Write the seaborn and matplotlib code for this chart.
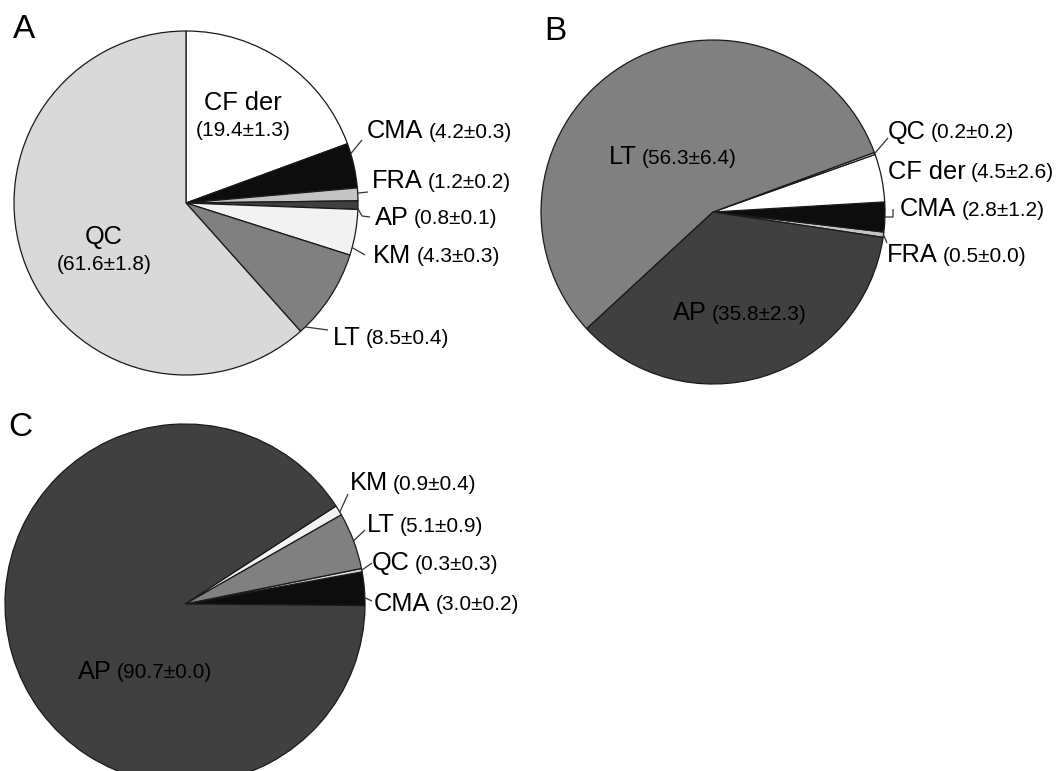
import numpy as np
import matplotlib
matplotlib.use("Agg")
import matplotlib.pyplot as plt
import matplotlib.transforms as mtrans
import seaborn as sns

sns.set_theme(style="white")
plt.rcParams['font.family'] = ['Liberation Sans', 'DejaVu Sans']

W, H = 1057, 771

# ---- data ----
colors_map = {
    "CF der": "#ffffff", "CMA": "#0d0d0d", "FRA": "#c4c4c4", "AP": "#404040",
    "KM": "#f2f2f2", "LT": "#808080", "QC": "#d9d9d9",
}

a_labels = ["CF der", "CMA", "FRA", "AP", "KM", "LT", "QC"]
a_values = [19.4, 4.2, 1.2, 0.8, 4.3, 8.5, 61.6]
a_errors = [1.3, 0.3, 0.2, 0.1, 0.3, 0.4, 1.8]

b_labels = ["FRA", "CMA", "CF der", "QC", "LT", "AP"]
b_values = [0.5, 2.8, 4.5, 0.2, 56.3, 35.8]
b_errors = [0.0, 1.2, 2.6, 0.2, 6.4, 2.3]

c_labels = ["CMA", "QC", "LT", "KM", "AP"]
c_values = [3.0, 0.3, 5.1, 0.9, 90.7]
c_errors = [0.2, 0.3, 0.9, 0.4, 0.0]

fig = plt.figure(figsize=(W / 100, H / 100), dpi=100)
fig.patch.set_facecolor("white")

PAD = 1.1
BIG = 18.3
SMALL = 15
TXT = "#000000"

overlay = fig.add_axes([0, 0, 1, 1], zorder=10)
overlay.set_xlim(0, W)
overlay.set_ylim(H, 0)
overlay.axis("off")
overlay.patch.set_alpha(0)
renderer = fig.canvas.get_renderer()
px_x = mtrans.blended_transform_factory(mtrans.IdentityTransform(), overlay.transData)


def draw_pie(cx, cy, r, labels, values, startangle, counterclock):
    s = r * PAD
    ax = fig.add_axes([(cx - s) / W, 1 - (cy + s) / H, 2 * s / W, 2 * s / H])
    wedges, _ = ax.pie(values, colors=[colors_map[l] for l in labels],
                       startangle=startangle, counterclock=counterclock,
                       wedgeprops=dict(edgecolor="#1a1a1a", linewidth=0.9))
    ax.set_xlim(-PAD, PAD)
    ax.set_ylim(-PAD, PAD)
    ax.set_aspect("equal")
    ax.axis("off")
    return ax, wedges


def edge_px(ax, wedge, frac):
    ang = np.deg2rad(wedge.theta1 + frac * (wedge.theta2 - wedge.theta1))
    p = ax.transData.transform((np.cos(ang), np.sin(ang)))
    return p[0], H - p[1]


def fmt(v, e):
    return f"({v:.1f}±{e:.1f})"


def name_value(lx, ly, name, v, e, gap=5):
    t = overlay.text(lx, ly, name, fontsize=BIG, ha="left", va="center", color=TXT)
    bb = t.get_window_extent(renderer=renderer)
    overlay.text(bb.x1 + gap, ly + 1, fmt(v, e), fontsize=SMALL, ha="left",
                 va="center", color=TXT, transform=px_x)


def leader(points):
    xs = [p[0] for p in points]
    ys = [p[1] for p in points]
    overlay.plot(xs, ys, color="#333333", lw=0.9, solid_capstyle="butt")


def panel(ax, wedges, labels, values, errors, spec):
    d = dict(zip(labels, zip(wedges, values, errors)))
    for name, (lx, ly, frac, path) in spec.items():
        w, v, e = d[name]
        if frac is not None:
            leader([edge_px(ax, w, frac)] + path)
        name_value(lx, ly, name, v, e)


# ---- Panel A ----
axA, wA = draw_pie(186, 203, 172, a_labels, a_values, 90, False)
dA = dict(zip(a_labels, zip(a_values, a_errors)))
overlay.text(243, 103, "CF der", fontsize=BIG, ha="center", va="center", color=TXT)
overlay.text(243, 130, fmt(*dA["CF der"]), fontsize=SMALL, ha="center", va="center", color=TXT)
overlay.text(104, 237, "QC", fontsize=BIG, ha="center", va="center", color=TXT)
overlay.text(104, 265, fmt(*dA["QC"]), fontsize=SMALL, ha="center", va="center", color=TXT)
panel(axA, wA, a_labels, a_values, a_errors, {
    "CMA": (367, 131, 0.77, [(362, 140)]),
    "FRA": (372, 181, 0.6, [(368, 192)]),
    "AP": (375, 218, 0.1, [(362, 216), (370, 217)]),
    "KM": (373, 256, 0.17, [(365, 255)]),
    "LT": (333, 338, 0.07, [(328, 330)]),
})

# ---- Panel B ----
axB, wB = draw_pie(713, 212, 172, b_labels, b_values, -8.5, True)
panel(axB, wB, b_labels, b_values, b_errors, {
    "QC": (888, 132, 0.5, [(888, 138)]),
    "CF der": (888, 172, None, []),
    "CMA": (900, 209, 0.5, [(893, 217), (893, 209)]),
    "FRA": (887, 255, 0.5, [(887, 243)]),
    "LT": (609, 157, None, []),
    "AP": (673, 313, None, []),
})

# ---- Panel C ----
axC, wC = draw_pie(185, 604, 180, c_labels, c_values, -0.5, True)
panel(axC, wC, c_labels, c_values, c_errors, {
    "KM": (350, 483, 0.3, [(348, 494)]),
    "LT": (367, 525, 0.5, [(365, 530)]),
    "QC": (372, 563, 0.5, [(372, 563)]),
    "CMA": (374, 604, 0.23, [(372, 601)]),
    "AP": (78, 672, None, []),
})

# panel letters
overlay.text(13, 30, "A", fontsize=24, ha="left", va="center", color=TXT)
overlay.text(544, 31, "B", fontsize=24, ha="left", va="center", color=TXT)
overlay.text(8, 427, "C", fontsize=24, ha="left", va="center", color=TXT)

fig.savefig("out.png", dpi=100, facecolor="white")
